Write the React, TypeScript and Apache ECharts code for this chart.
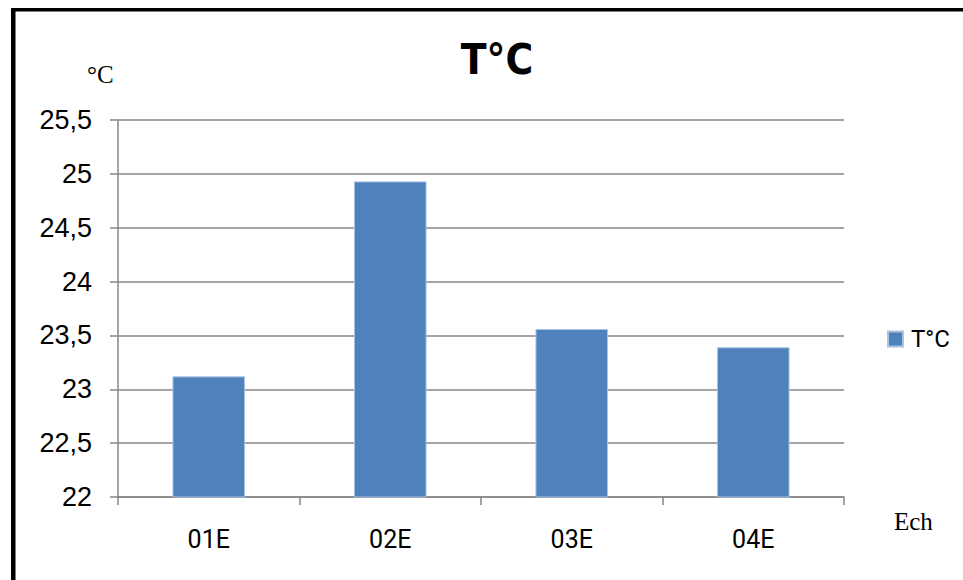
import React, { useEffect, useRef } from "react";
import * as echarts from "echarts";

const categories = ["01E", "02E", "03E", "04E"];
const temperatures = [23.12, 24.93, 23.56, 23.39];
const seriesName = "T°C";
const chartTitle = "T°C";
const yUnit = "°C";
const xUnit = "Ech";

export default function App() {
  const ref = useRef<HTMLDivElement>(null);
  useEffect(() => {
    document.body.style.margin = "0";
    const chart = echarts.init(ref.current!, null, { renderer: "svg" });
    const gray = "#878787";
    chart.setOption({
      animation: false,
      backgroundColor: "#ffffff",
      title: {
        text: chartTitle,
        left: 492,
        top: 33,
        textAlign: "center",
        textStyle: {
          fontFamily: "'DejaVu Sans Condensed', 'DejaVu Sans'",
          fontWeight: "bold",
          fontSize: 42,
          color: "#000",
        },
      },
      legend: {
        data: [seriesName],
        left: 887,
        top: 327,
        padding: 0,
        itemWidth: 15,
        itemHeight: 15,
        itemGap: 8,
        icon: "rect",
        textStyle: { fontFamily: "Roboto", fontSize: 24, color: "#000", padding: [0, 0, 0, 3] },
      },
      grid: { left: 118, top: 120, right: 119, bottom: 83 },
      xAxis: {
        type: "category",
        data: categories,
        axisLine: { lineStyle: { color: gray, width: 1.5 } },
        axisTick: { show: true, length: 8, alignWithLabel: false, lineStyle: { color: gray, width: 1.5 } },
        axisLabel: { margin: 30, fontFamily: "Roboto", fontSize: 25, color: "#000" },
      },
      yAxis: {
        type: "value",
        min: 22,
        max: 25.5,
        interval: 0.5,
        axisLine: { show: true, lineStyle: { color: gray, width: 1.5 } },
        axisTick: { show: true, length: 8, lineStyle: { color: gray, width: 1.5 } },
        splitLine: { show: true, lineStyle: { color: gray, width: 1.5 } },
        axisLabel: {
          margin: 26,
          fontFamily: "'Liberation Sans', Arial",
          fontSize: 27,
          color: "#000",
          formatter: (v: number) => String(v).replace(".", ","),
        },
      },
      series: [
        {
          name: seriesName,
          type: "bar",
          data: temperatures,
          barWidth: "40%",
          itemStyle: { color: "#4F81BD", borderColor: "#a9c3e3", borderWidth: 1 },
        },
      ],
      graphic: [
        { type: "rect", shape: { x: 11, y: 8, width: 952, height: 3.5 }, style: { fill: "#000" } },
        { type: "rect", shape: { x: 11, y: 8, width: 4.5, height: 572 }, style: { fill: "#000" } },
        {
          type: "text",
          left: 87,
          top: 62,
          style: { text: yUnit, font: "25px 'Liberation Serif'", fill: "#000" },
        },
        {
          type: "text",
          left: 894,
          top: 509,
          style: { text: xUnit, font: "25px 'Liberation Serif'", fill: "#000" },
        },
      ],
    });
    return () => chart.dispose();
  }, []);
  return <div ref={ref} style={{ width: 963, height: 580 }} />;
}
